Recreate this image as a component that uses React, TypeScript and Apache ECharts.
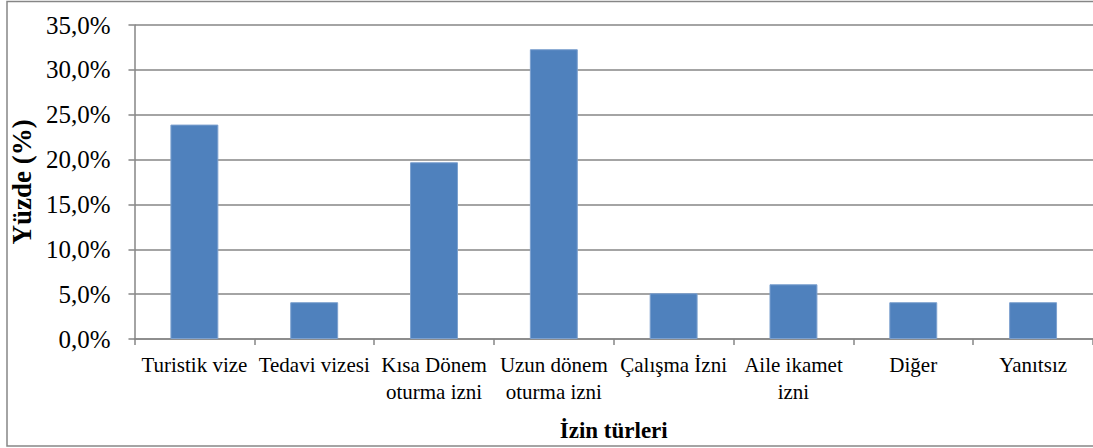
import React, { useEffect, useRef } from "react";
import * as echarts from "echarts";

const categories = [
  "Turistik vize",
  "Tedavi vizesi",
  "Kısa Dönem\noturma izni",
  "Uzun dönem\noturma izni",
  "Çalışma İzni",
  "Aile ikamet\nizni",
  "Diğer",
  "Yanıtsız",
];
const values = [23.9, 4.1, 19.7, 32.3, 5.1, 6.1, 4.1, 4.1];
const yTicks = { min: 0, max: 35, interval: 5 };
const yTitle = "Yüzde (%)";
const xTitle = "İzin türleri";

const FONT = '"Liberation Serif", "Times New Roman", serif';

export default function App() {
  const ref = useRef<HTMLDivElement>(null);
  useEffect(() => {
    document.body.style.margin = "0";
    const chart = echarts.init(ref.current!, null, { renderer: "svg" });
    chart.setOption({
      animation: false,
      backgroundColor: "#ffffff",
      textStyle: { fontFamily: FONT },
      graphic: [
        {
          type: "rect",
          shape: { x: 7, y: 1.5, width: 1110, height: 444.5 },
          style: { fill: "none", stroke: "#868686", lineWidth: 1.5 },
          z: 100,
        },
      ],
      grid: { left: 131, top: 25, width: 970, height: 314 },
      xAxis: {
        type: "category",
        data: categories,
        name: xTitle,
        nameLocation: "middle",
        nameGap: 80,
        nameTextStyle: { fontFamily: FONT, fontSize: 23, fontWeight: "bold", color: "#000" },
        axisLine: { lineStyle: { color: "#868686", width: 1.5 } },
        axisTick: { show: true, alignWithLabel: false, length: 6, lineStyle: { color: "#868686", width: 1.5 } },
        axisLabel: {
          interval: 0,
          color: "#000",
          fontFamily: FONT,
          fontSize: 21,
          lineHeight: 27,
          margin: 12,
        },
      },
      yAxis: {
        type: "value",
        min: yTicks.min,
        max: yTicks.max,
        interval: yTicks.interval,
        name: yTitle,
        nameLocation: "middle",
        nameGap: 84,
        nameRotate: 90,
        nameTextStyle: { fontFamily: FONT, fontSize: 27, fontWeight: "bold", color: "#000" },
        axisLine: { show: true, lineStyle: { color: "#868686", width: 1.5 } },
        axisTick: { show: true, length: 6, lineStyle: { color: "#868686", width: 1.5 } },
        splitLine: { show: true, lineStyle: { color: "#868686", width: 1.5 } },
        axisLabel: {
          color: "#000",
          fontFamily: FONT,
          fontSize: 25,
          margin: 24,
          formatter: (v: number) => v.toFixed(1).replace(".", ",") + "%",
        },
      },
      series: [
        {
          type: "bar",
          data: values,
          barWidth: "40%",
          itemStyle: { color: "#4F81BD", borderColor: "#7DA1CF", borderWidth: 1 },
        },
      ],
    });
    return () => chart.dispose();
  }, []);
  return <div ref={ref} style={{ width: 1093, height: 448 }} />;
}
